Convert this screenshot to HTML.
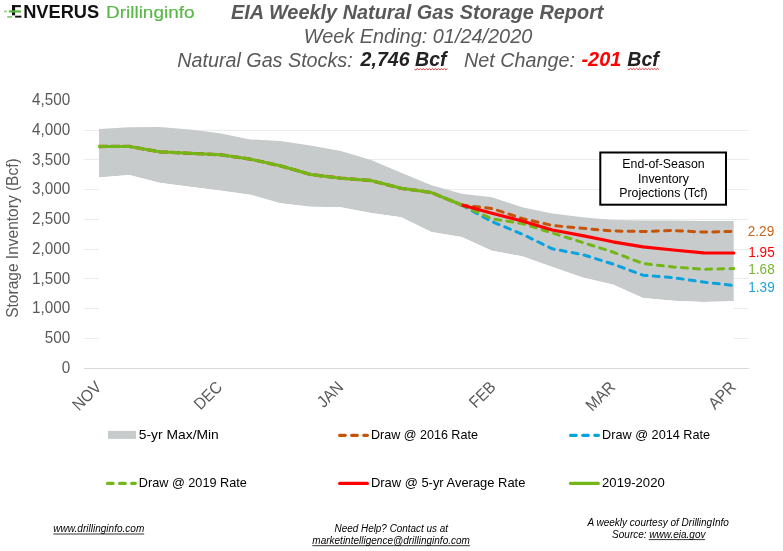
<!DOCTYPE html>
<html><head><meta charset="utf-8"><style>
html,body{margin:0;padding:0;background:#fff;width:783px;height:551px;overflow:hidden}
svg{display:block;font-family:"Liberation Sans", sans-serif;will-change:transform}
</style></head><body>
<svg width="783" height="551" viewBox="0 0 783 551">
<rect width="783" height="551" fill="#fff"/>
<!-- logo -->
<g>
<rect x="12" y="5.1" width="8.9" height="2.1" fill="#111"/>
<rect x="12" y="5.1" width="3.1" height="10.2" fill="#111"/>
<rect x="15.1" y="15.7" width="6.3" height="1.9" fill="#111"/>
<rect x="8.9" y="10.4" width="12" height="2.1" fill="#4DB935"/>
<rect x="4.1" y="10.5" width="2.8" height="1.9" fill="#9AD48A"/>
<rect x="7.2" y="16" width="4.8" height="1.8" fill="#8ACB78"/>
<text x="23.2" y="17.8" font-size="17.7" font-weight="bold" fill="#111" textLength="76" lengthAdjust="spacingAndGlyphs">NVERUS</text>
<text x="106" y="17.6" font-size="16.5" fill="#57B845" stroke="#57B845" stroke-width="0.15" textLength="88.5" lengthAdjust="spacingAndGlyphs">Drillinginfo</text>
</g>
<!-- title -->
<g fill="#595959" font-style="italic">
<text x="231" y="18.6" font-size="20" font-weight="bold" textLength="372.5" lengthAdjust="spacingAndGlyphs">EIA Weekly Natural Gas Storage Report</text>
<text x="303.8" y="42.5" font-size="20" textLength="228.5" lengthAdjust="spacingAndGlyphs">Week Ending: 01/24/2020</text>
<text x="177.2" y="66.5" font-size="20" textLength="175.5" lengthAdjust="spacingAndGlyphs">Natural Gas Stocks:</text>
<text x="360.6" y="66.3" font-size="20" font-weight="bold" fill="#222" textLength="86" lengthAdjust="spacingAndGlyphs">2,746 Bcf</text>
<text x="464" y="66.5" font-size="20" textLength="111" lengthAdjust="spacingAndGlyphs">Net Change:</text>
<text x="581.5" y="66.3" font-size="20" font-weight="bold" fill="#f00" textLength="39.8" lengthAdjust="spacingAndGlyphs">-201</text>
<text x="627.3" y="66.3" font-size="20" font-weight="bold" fill="#222" textLength="31.5" lengthAdjust="spacingAndGlyphs">Bcf</text>
</g>
<path d="M414.4,69.2 L415.9,69.9 L417.4,68.5 L418.9,69.9 L420.4,68.5 L421.9,69.9 L423.4,68.5 L424.9,69.9 L426.4,68.5 L427.9,69.9 L429.4,68.5 L430.9,69.9 L432.4,68.5 L433.9,69.9 L435.4,68.5 L436.9,69.9 L438.4,68.5 L439.9,69.9 L441.4,68.5 L442.9,69.9 L444.4,68.5 L445.9,69.9 L447.4,68.5" fill="none" stroke="#E02828" stroke-width="0.9"/>
<path d="M627.6,69.0 L629.1,69.7 L630.6,68.3 L632.1,69.7 L633.6,68.3 L635.1,69.7 L636.6,68.3 L638.1,69.7 L639.6,68.3 L641.1,69.7 L642.6,68.3 L644.1,69.7 L645.6,68.3 L647.1,69.7 L648.6,68.3 L650.1,69.7 L651.6,68.3 L653.1,69.7 L654.6,68.3 L656.1,69.7 L657.6,68.3 L659.1,69.7" fill="none" stroke="#E02828" stroke-width="0.9"/>
<!-- grid -->
<line x1="84" x2="748.8" y1="338.5" y2="338.5" stroke="#EBEBEB" stroke-width="1"/><line x1="84" x2="748.8" y1="308.5" y2="308.5" stroke="#EBEBEB" stroke-width="1"/><line x1="84" x2="748.8" y1="278.5" y2="278.5" stroke="#EBEBEB" stroke-width="1"/><line x1="84" x2="748.8" y1="249.5" y2="249.5" stroke="#EBEBEB" stroke-width="1"/><line x1="84" x2="748.8" y1="219.5" y2="219.5" stroke="#EBEBEB" stroke-width="1"/><line x1="84" x2="748.8" y1="189.5" y2="189.5" stroke="#EBEBEB" stroke-width="1"/><line x1="84" x2="748.8" y1="159.5" y2="159.5" stroke="#EBEBEB" stroke-width="1"/><line x1="84" x2="748.8" y1="130.5" y2="130.5" stroke="#EBEBEB" stroke-width="1"/>
<path d="M99.00,129.00 L129.22,127.30 L159.45,127.00 L189.67,129.40 L219.90,133.20 L250.12,139.40 L280.34,141.00 L310.57,145.60 L340.79,150.90 L371.02,159.90 L401.24,172.70 L431.46,185.20 L461.69,193.80 L491.91,197.20 L522.14,207.30 L552.36,213.60 L582.58,217.20 L612.81,219.90 L643.03,220.50 L673.26,220.50 L703.48,220.90 L733.70,220.90 L733.70,301.30 L703.48,302.00 L673.26,300.80 L643.03,298.00 L612.81,284.50 L582.58,277.60 L552.36,267.00 L522.14,256.30 L491.91,250.80 L461.69,237.00 L431.46,231.90 L401.24,217.30 L371.02,213.00 L340.79,207.30 L310.57,206.70 L280.34,203.20 L250.12,194.70 L219.90,190.50 L189.67,186.70 L159.45,182.80 L129.22,174.90 L99.00,177.50 Z" fill="#C8CBCC"/>
<path d="M99.00,177.50 L129.22,174.90 L159.45,182.80 L189.67,186.70 L219.90,190.50 L250.12,194.70 L280.34,203.20 L310.57,206.70 L340.79,207.30 L371.02,213.00 L401.24,217.30 L431.46,231.90 L461.69,237.00 L491.91,250.80 L522.14,256.30 L552.36,267.00 L582.58,277.60 L612.81,284.50 L643.03,298.00 L673.26,300.80 L703.48,302.00 L733.70,301.30 L733.70,368 L99.00,368 Z" fill="#fff"/>
<line x1="84" x2="748.8" y1="368.5" y2="368.5" stroke="#D9D9D9" stroke-width="1"/>
<g fill="none" stroke-width="3" stroke-linejoin="round">
<path d="M99.00,146.50 L129.22,146.40 L159.45,151.80 L189.67,153.30 L219.90,154.70 L250.12,159.10 L280.34,165.80 L310.57,174.50 L340.79,178.20 L371.02,180.50 L401.24,188.30 L431.46,192.60 L461.69,205.00" stroke="#C65408" stroke-width="3.3" stroke-dasharray="8.9 3.2"/>
<path d="M461.69,205.00 L491.91,208.50 L522.14,218.50 L552.36,225.50 L582.58,228.30 L612.81,231.00 L643.03,231.50 L673.26,230.50 L703.48,232.10 L733.70,231.40" stroke="#C65408" stroke-dasharray="5.9 6.2" stroke-linecap="round"/>
<path d="M461.69,205.00 L491.91,221.60 L522.14,234.10 L552.36,248.80 L582.58,254.60 L612.81,264.00 L643.03,275.20 L673.26,277.70 L703.48,282.00 L733.70,285.50" stroke="#08A2DE" stroke-dasharray="5.9 6.2" stroke-linecap="round"/>
<path d="M461.69,205.00 L491.91,218.80 L522.14,223.50 L552.36,233.00 L582.58,242.50 L612.81,252.00 L643.03,263.50 L673.26,267.00 L703.48,269.30 L733.70,268.60" stroke="#72B618" stroke-dasharray="5.9 6.2" stroke-linecap="round"/>
<path d="M461.69,205.00 L491.91,213.20 L522.14,221.00 L552.36,230.00 L582.58,235.60 L612.81,241.80 L643.03,246.90 L673.26,250.00 L703.48,252.80 L733.70,253.00" stroke="#FF0000" stroke-width="3.2" stroke-linecap="round"/>
<path d="M98.20,146.50 L129.22,146.40 L159.45,151.80 L189.67,153.30 L219.90,154.70 L250.12,159.10 L280.34,165.80 L310.57,174.50 L340.79,178.20 L371.02,180.50 L401.24,188.30 L431.46,192.60 L461.69,205.00" stroke="#72B618" stroke-width="3.0" stroke-linecap="butt"/>
</g>
<!-- y labels -->
<g font-size="15" fill="#595959">
<text transform="translate(70.2 372.8) scale(0.925 1)" font-size="16.5" text-anchor="end">0</text><text transform="translate(70.2 343.1) scale(0.925 1)" font-size="16.5" text-anchor="end">500</text><text transform="translate(70.2 313.3) scale(0.925 1)" font-size="16.5" text-anchor="end">1,000</text><text transform="translate(70.2 283.6) scale(0.925 1)" font-size="16.5" text-anchor="end">1,500</text><text transform="translate(70.2 253.8) scale(0.925 1)" font-size="16.5" text-anchor="end">2,000</text><text transform="translate(70.2 224.1) scale(0.925 1)" font-size="16.5" text-anchor="end">2,500</text><text transform="translate(70.2 194.3) scale(0.925 1)" font-size="16.5" text-anchor="end">3,000</text><text transform="translate(70.2 164.6) scale(0.925 1)" font-size="16.5" text-anchor="end">3,500</text><text transform="translate(70.2 134.8) scale(0.925 1)" font-size="16.5" text-anchor="end">4,000</text><text transform="translate(70.2 105.0) scale(0.925 1)" font-size="16.5" text-anchor="end">4,500</text>
<text font-size="16.5" text-anchor="end" transform="translate(102.4 388.1) rotate(-45) scale(0.925 1)">NOV</text><text font-size="16.5" text-anchor="end" transform="translate(223.3 388.1) rotate(-45) scale(0.925 1)">DEC</text><text font-size="16.5" text-anchor="end" transform="translate(344.2 388.1) rotate(-45) scale(0.925 1)">JAN</text><text font-size="16.5" text-anchor="end" transform="translate(496.8 388.1) rotate(-45) scale(0.925 1)">FEB</text><text font-size="16.5" text-anchor="end" transform="translate(616.2 388.1) rotate(-45) scale(0.925 1)">MAR</text><text font-size="16.5" text-anchor="end" transform="translate(737.1 388.1) rotate(-45) scale(0.925 1)">APR</text>
<text transform="translate(17.7 317.8) rotate(-90)" font-size="16" textLength="159.5" lengthAdjust="spacingAndGlyphs">Storage Inventory (Bcf)</text>
</g>
<!-- end labels -->
<g font-size="14">
<text transform="translate(747.8 236) scale(0.97 1)" fill="#C8651B">2.29</text>
<text transform="translate(748.3 256.9) scale(0.97 1)" fill="#FF0000">1.95</text>
<text transform="translate(748.3 273.9) scale(0.97 1)" fill="#74B62E">1.68</text>
<text transform="translate(748.3 292.4) scale(0.97 1)" fill="#1AA2DE">1.39</text>
</g>
<!-- box -->
<rect x="600.3" y="152.5" width="125.7" height="52.2" fill="#fff" stroke="#000" stroke-width="2"/>
<g font-size="12.35" fill="#000" text-anchor="middle">
<text x="663.5" y="168">End-of-Season</text>
<text x="663.5" y="183">Inventory</text>
<text x="663.5" y="197">Projections (Tcf)</text>
</g>
<!-- legend -->
<g font-size="13" fill="#000">
<rect x="108" y="430.9" width="28" height="8" fill="#C8CBCC"/>
<text x="138.8" y="439.4" textLength="80" lengthAdjust="spacingAndGlyphs">5-yr Max/Min</text>
<line x1="339.6" x2="367.4" y1="435.3" y2="435.3" stroke="#C65408" stroke-width="3.25" stroke-dasharray="5.6 6.5" stroke-linecap="round"/>
<text x="370.9" y="439.4" textLength="107" lengthAdjust="spacingAndGlyphs">Draw @ 2016 Rate</text>
<line x1="570.6" x2="598.4" y1="435.3" y2="435.3" stroke="#08A2DE" stroke-width="3.25" stroke-dasharray="5.6 6.5" stroke-linecap="round"/>
<text x="602.1" y="439.4" textLength="108" lengthAdjust="spacingAndGlyphs">Draw @ 2014 Rate</text>
<line x1="107.5" x2="135.2" y1="483.4" y2="483.4" stroke="#72B618" stroke-width="3.25" stroke-dasharray="5.6 6.5" stroke-linecap="round"/>
<text x="138.8" y="486.9" textLength="108" lengthAdjust="spacingAndGlyphs">Draw @ 2019 Rate</text>
<line x1="339.7" x2="367.3" y1="483.4" y2="483.4" stroke="#FF0000" stroke-width="3.3" stroke-linecap="round"/>
<text x="370.9" y="486.9" textLength="154.5" lengthAdjust="spacingAndGlyphs">Draw @ 5-yr Average Rate</text>
<line x1="570.5" x2="598.2" y1="483.4" y2="483.4" stroke="#72B618" stroke-width="3.3" stroke-linecap="round"/>
<text x="602.1" y="486.9" textLength="62.6" lengthAdjust="spacingAndGlyphs">2019-2020</text>
</g>
<!-- footer -->
<g font-size="10" font-style="italic" fill="#000">
<text x="53.3" y="531.8" textLength="91" lengthAdjust="spacingAndGlyphs">www.drillinginfo.com</text>
<line x1="53.3" x2="144.2" y1="534" y2="534" stroke="#000" stroke-width="0.8"/>
<text x="334.5" y="532.1" textLength="113.6" lengthAdjust="spacingAndGlyphs">Need Help? Contact us at</text>
<text x="312.3" y="543.6" textLength="157.6" lengthAdjust="spacingAndGlyphs">marketintelligence@drillinginfo.com</text>
<line x1="312.3" x2="469.9" y1="545.7" y2="545.7" stroke="#000" stroke-width="0.8"/>
<text x="587.4" y="525.8" textLength="141.5" lengthAdjust="spacingAndGlyphs">A weekly courtesy of DrillingInfo</text>
<text x="612.1" y="537.6">Source: <tspan>www.eia.gov</tspan></text>
<line x1="648.7" x2="704.9" y1="539.6" y2="539.6" stroke="#000" stroke-width="0.8"/>
</g>
</svg>
</body></html>
